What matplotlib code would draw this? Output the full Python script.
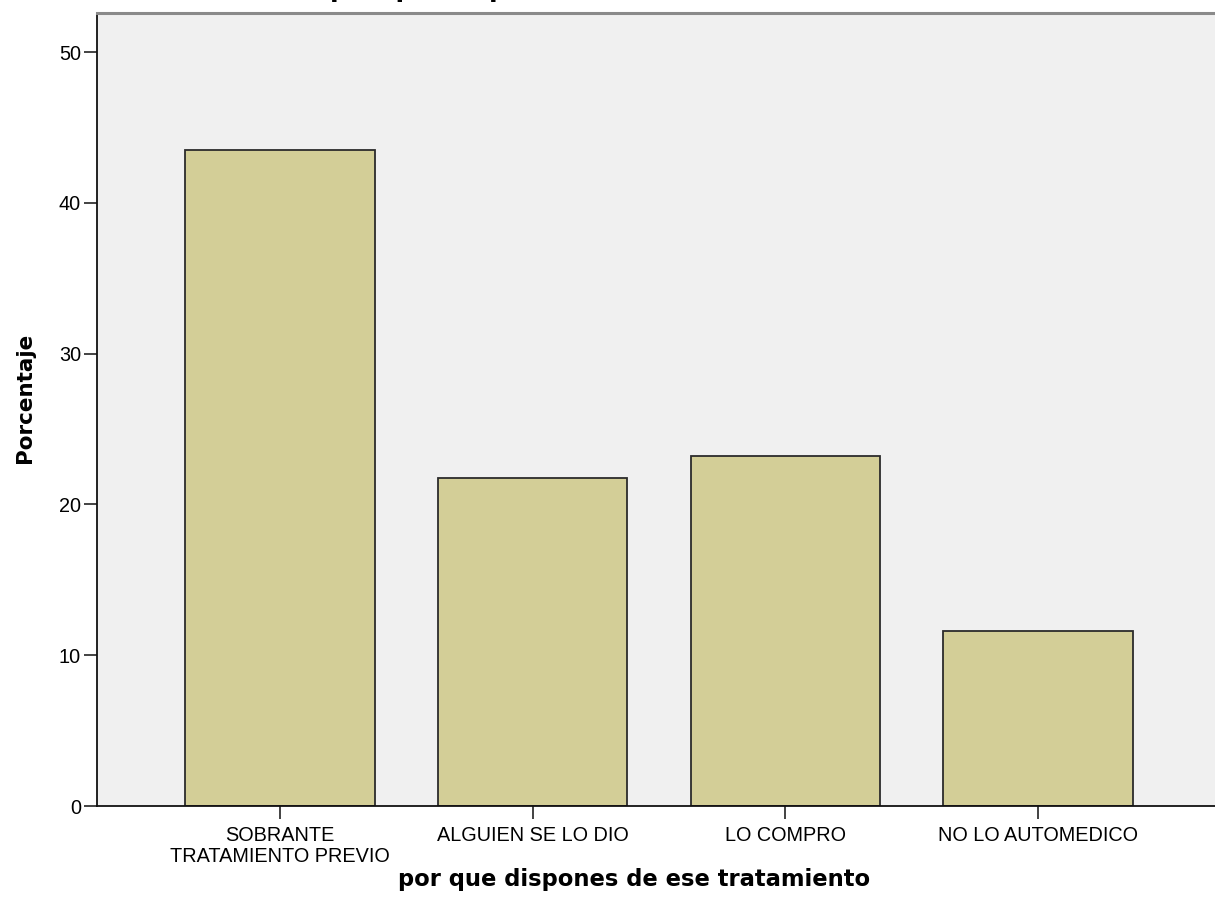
import matplotlib
matplotlib.use("Agg")
import matplotlib.pyplot as plt

# porcentaje por categoria (n = 69)
categorias = ["SOBRANTE\nTRATAMIENTO PREVIO", "ALGUIEN SE LO DIO", "LO COMPRO", "NO LO AUTOMEDICO"]
porcentajes = [43.48, 21.74, 23.19, 11.59]
yticks = [0, 10, 20, 30, 40, 50]

titulo = "por que dispones de ese tratamiento"
etiqueta_x = "por que dispones de ese tratamiento"
etiqueta_y = "Porcentaje"

W, H = 1215, 918
fig = plt.figure(figsize=(W / 100, H / 100), dpi=100)
ax = fig.add_axes([97 / W, 1 - 806 / H, (1221 - 97) / W, (806 - 13) / H])
ax.set_facecolor("#f0f0f0")

x = range(len(categorias))
ax.bar(x, porcentajes, width=0.75, color="#d3ce97", edgecolor="#2b2b2b", linewidth=1.3, zorder=2)

ax.set_xlim(-0.724, len(categorias) - 1 + 0.724)
ax.set_ylim(0, 52.6)
ax.set_yticks(yticks)
ax.set_xticks(list(x))
ax.set_xticklabels(categorias, linespacing=1.1)

for lab in ax.get_xticklabels() + ax.get_yticklabels():
    lab.set_fontfamily("Liberation Sans")
    lab.set_fontsize(14.3)
ax.tick_params(axis="y", length=9.5, width=1.2, pad=2, color="#222222")
ax.tick_params(axis="x", length=9.5, width=1.2, pad=5, color="#222222")

for s in ["left", "bottom"]:
    ax.spines[s].set_color("#111111")
    ax.spines[s].set_linewidth(1.3)
ax.spines["top"].set_color("#8a8a8a")
ax.spines["top"].set_linewidth(2.2)
ax.spines["right"].set_visible(False)

ax.set_xlabel(etiqueta_x, fontsize=16.3, fontweight="bold", family="DejaVu Sans")
ax.xaxis.set_label_coords((634 - 97) / 1124, (806 - 868) / 793)
ax.set_ylabel(etiqueta_y, fontsize=15.5, fontweight="bold", family="DejaVu Sans",
              ha="center", va="center")
ax.yaxis.set_label_coords((25 - 97) / 1124, (806 - 398) / 793)

# el titulo queda casi fuera del lienzo, solo asoman los trazos inferiores
fig.text(330 / W, 1 + 3.5 / H, titulo, fontsize=18, fontweight="bold",
         family="DejaVu Sans", ha="left", va="baseline")

fig.savefig("out.png", dpi=100)
